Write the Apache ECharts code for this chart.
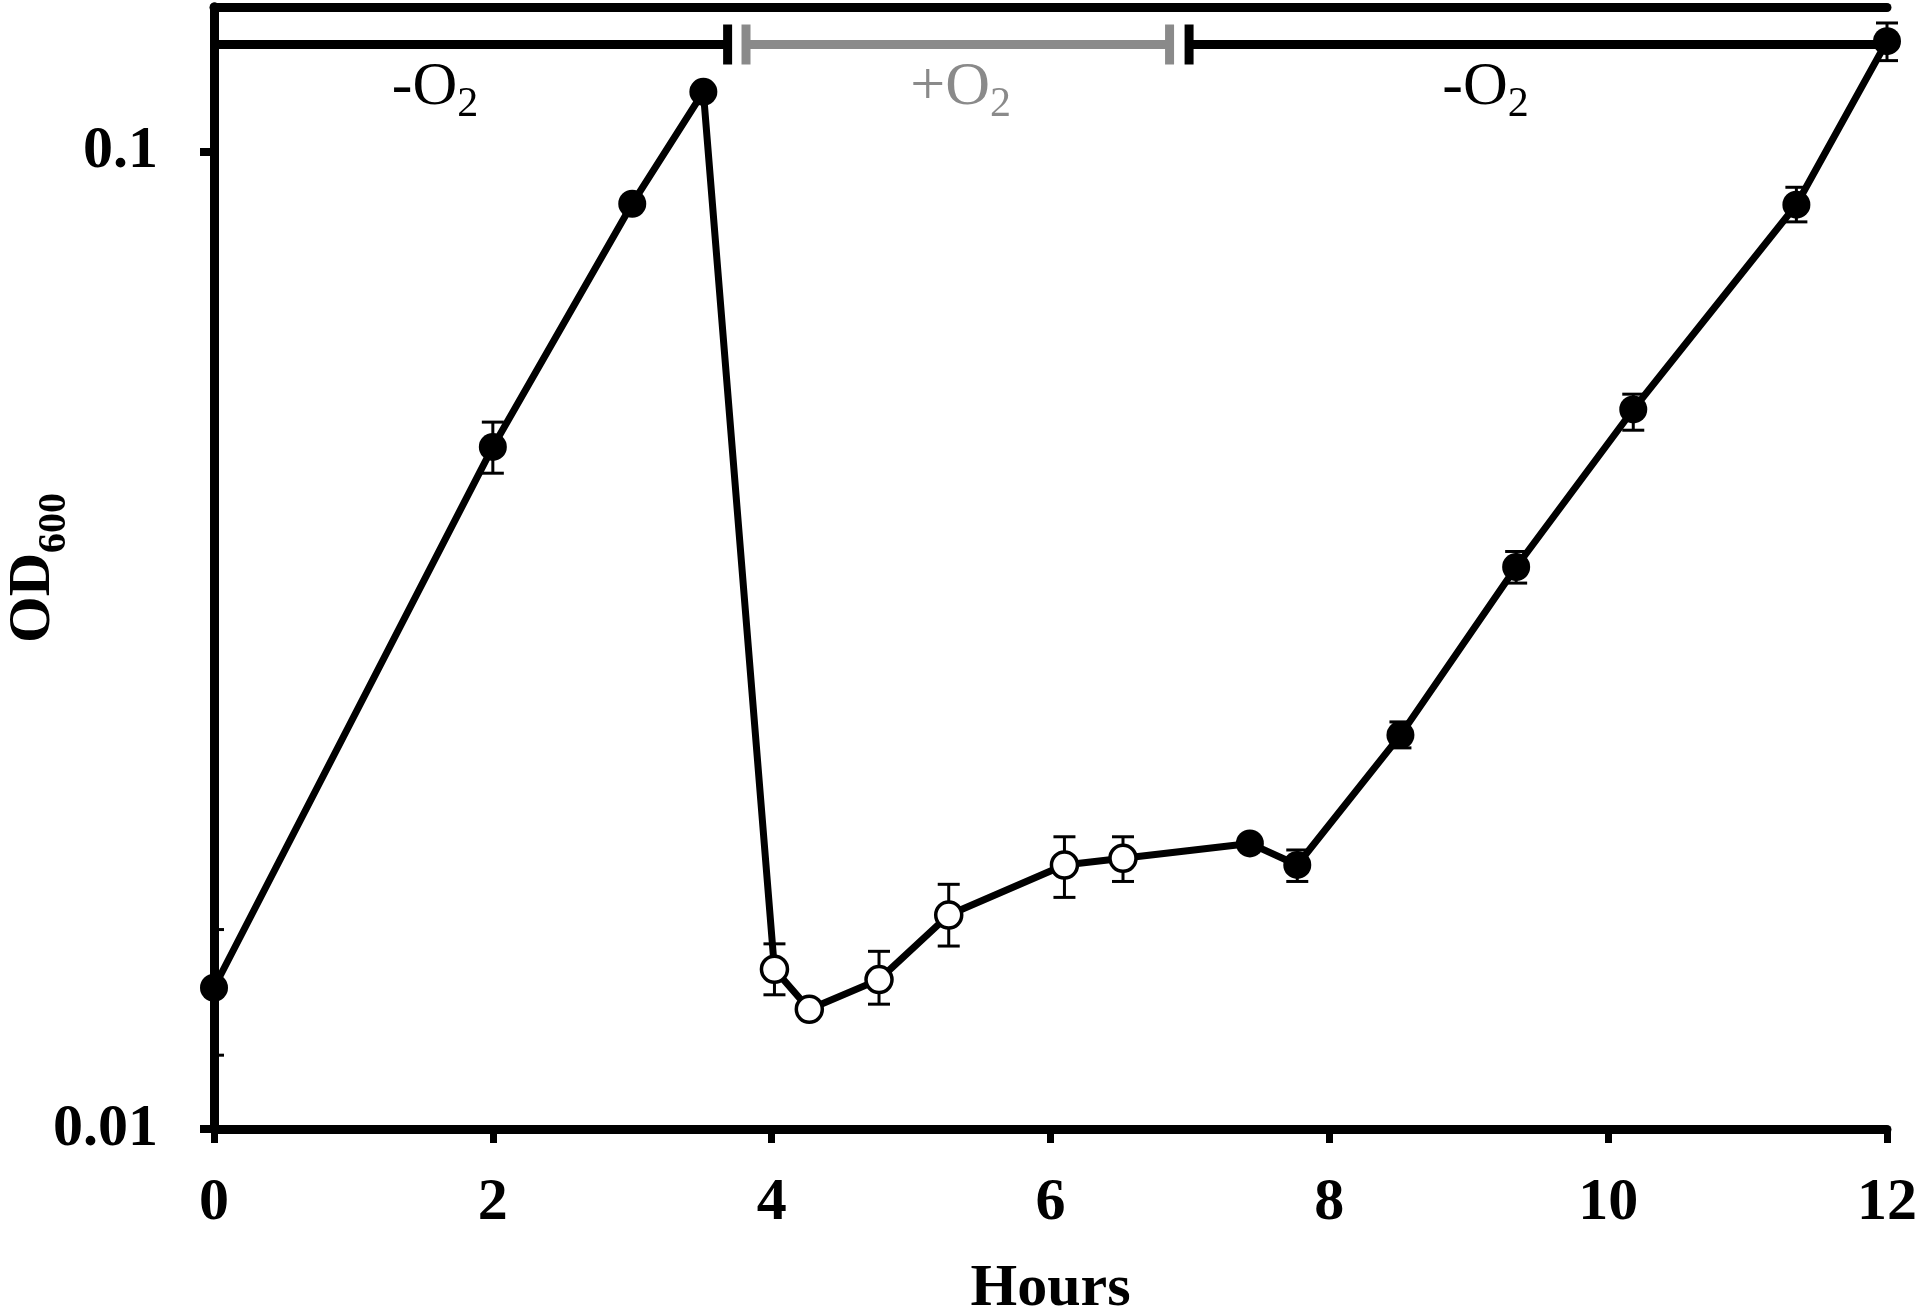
<!DOCTYPE html>
<html><head><meta charset="utf-8">
<script src="https://cdn.jsdelivr.net/npm/echarts@6/dist/echarts.min.js"></script>
<style>html,body{margin:0;padding:0;background:#fff}#c{width:1920px;height:1310px}</style>
</head><body><div id="c"></div>
<script>
// ---- data ----
const hours   = [0, 2.0, 3.0, 3.51, 4.02, 4.27, 4.77, 5.27, 6.10, 6.52, 7.43, 7.77, 8.51, 9.34, 10.18, 11.35, 12.0];
const od600   = [0.01395, 0.0499, 0.0885, 0.1152, 0.01457, 0.01326, 0.01422, 0.01656, 0.01863, 0.01893, 0.0196, 0.01863, 0.0253, 0.0376, 0.0545, 0.0883, 0.1298];
const errLow  = [null, 0.0469, 0.0875, null, 0.01372, null, 0.01342, 0.01539, 0.01726, 0.01792, null, 0.01792, 0.02455, 0.0362, 0.0519, 0.0848, 0.124];
const errHigh = [null, 0.0529, 0.0895, null, 0.01547, null, 0.01520, 0.0178, 0.01991, 0.01991, null, 0.0193, 0.0261, 0.0390, 0.0565, 0.0920, 0.1355];
const oxygen  = ['-','-','-','-','+','+','+','+','+','+','-','-','-','-','-','-','-'];
const xTickValues = [0, 2, 4, 6, 8, 10, 12];
const yTickValues = [0.01, 0.1];
const yTickLabels = ['0.01', '0.1'];
const yMinorTicks = [0.0119, 0.016];
// oxygen phase annotation
const phaseNames    = ['-O', '+O', '-O'];
const phaseStart    = [0, 3.816, 6.994];
const phaseEnd      = [3.684, 6.854, 12];
const phaseLabelAt  = [1.585, 5.355, 9.12];
const phaseCapStart = [false, true, true];
const phaseCapEnd   = [true, true, false];
const phaseLevel    = 0.1288;
const phaseAerobic  = [false, true, false];

const FONT = '"Liberation Serif", serif';
const GRAY = '#8a8a8a';

const chart = echarts.init(document.getElementById('c'), null, {renderer: 'canvas'});

const lineData = hours.map((h, i) => [h, od600[i]]);
const filled = [], open = [];
hours.forEach((h, i) => (oxygen[i] === '+' ? open : filled).push([h, od600[i]]));
const errData = [];
hours.forEach((h, i) => { if (errLow[i] != null) errData.push([h, errLow[i], errHigh[i]]); });

const series = [];
// phase bars + caps + labels
phaseNames.forEach((nm, i) => {
  const col = phaseAerobic[i] ? GRAY : '#000';
  series.push({
    type: 'line', data: [[phaseStart[i], phaseLevel], [phaseEnd[i], phaseLevel]],
    symbol: 'none', lineStyle: {color: col, width: 9, opacity: 1}, z: 5, clip: false, silent: true
  });
  const caps = [];
  if (phaseCapStart[i]) caps.push([phaseStart[i], phaseLevel]);
  if (phaseCapEnd[i]) caps.push([phaseEnd[i], phaseLevel]);
  series.push({
    type: 'scatter', data: caps, symbol: 'rect', symbolSize: [9, 40],
    itemStyle: {color: col, opacity: 1}, z: 5, clip: false, silent: true
  });
  series.push({
    type: 'scatter', data: [[phaseLabelAt[i], phaseLevel]], symbolSize: 1,
    itemStyle: {color: 'rgba(0,0,0,0)', opacity: 1}, z: 5, clip: false, silent: true,
    label: {
      show: true, position: 'inside', offset: [0, 43], opacity: 1,
      fontFamily: FONT, fontSize: 62, color: col,
      formatter: '{a|' + nm + '}{b|2}',
      rich: {
        a: {fontFamily: FONT, fontWeight: 'normal', fontSize: 62, lineHeight: 62, color: col, opacity: 1},
        b: {fontFamily: FONT, fontWeight: 'normal', fontSize: 42, lineHeight: 42, color: col, opacity: 1, padding: [34, 0, 0, 0]}
      }
    }
  });
});
// connecting line
series.push({
  type: 'line', data: lineData, symbol: 'none', clip: false,
  lineStyle: {color: '#000', width: 7, opacity: 1}, z: 2
});
// error bars
series.push({
  type: 'custom', data: errData, z: 3, clip: false,
  encode: {x: 0, y: [1, 2]},
  renderItem: (params, api) => {
    const x = api.value(0), lo = api.value(1), hi = api.value(2);
    const pH = api.coord([x, hi]), pL = api.coord([x, lo]);
    const w = 11, st = {stroke: '#000', lineWidth: 3};
    return {type: 'group', children: [
      {type: 'line', shape: {x1: pH[0], y1: pH[1], x2: pL[0], y2: pL[1]}, style: st},
      {type: 'line', shape: {x1: pH[0] - w, y1: pH[1], x2: pH[0] + w, y2: pH[1]}, style: st},
      {type: 'line', shape: {x1: pL[0] - w, y1: pL[1], x2: pL[0] + w, y2: pL[1]}, style: st}
    ]};
  }
});
// minor y ticks (inside)
series.push({
  type: 'custom', data: yMinorTicks.map(v => [0, v]), z: 3, clip: false,
  renderItem: (params, api) => {
    const p = api.coord([api.value(0), api.value(1)]);
    return {type: 'line', shape: {x1: p[0], y1: p[1], x2: p[0] + 10, y2: p[1]}, style: {stroke: '#000', lineWidth: 3}};
  }
});
// markers
series.push({
  type: 'scatter', data: filled, symbol: 'circle', symbolSize: 28,
  itemStyle: {color: '#000', opacity: 1}, z: 6, clip: false
});
series.push({
  type: 'scatter', data: open, symbol: 'circle', symbolSize: 26,
  itemStyle: {color: '#fff', borderColor: '#000', borderWidth: 3.5, opacity: 1}, z: 6, clip: false
});

const axisFont = {fontFamily: FONT, fontWeight: 'bold', fontSize: 60, color: '#000'};

chart.setOption({
  animation: false,
  backgroundColor: '#fff',
  grid: {left: 214, right: 33, top: 7, bottom: 181, containLabel: false, outerBoundsMode: 'none'},
  xAxis: [{
    type: 'value', min: 0, max: 12, interval: 2,
    axisLine: {lineStyle: {color: '#000', width: 9}},
    axisTick: {length: 14, lineStyle: {color: '#000', width: 7}},
    axisLabel: Object.assign({margin: 44, customValues: xTickValues}, axisFont),
    splitLine: {show: false},
    name: 'Hours', nameLocation: 'middle', nameGap: 130, nameMoveOverlap: false,
    nameTextStyle: axisFont
  }, {
    type: 'value', position: 'top', min: 0, max: 12,
    axisLine: {lineStyle: {color: '#000', width: 9}},
    axisTick: {show: false}, axisLabel: {show: false}, splitLine: {show: false}
  }],
  yAxis: [{
    type: 'log', logBase: 10, min: 0.01, max: 0.1407,
    axisLine: {lineStyle: {color: '#000', width: 9}},
    axisTick: {length: 14, customValues: yTickValues, lineStyle: {color: '#000', width: 8}},
    axisLabel: Object.assign({
      margin: 56, customValues: yTickValues,
      formatter: v => {
        let best = 0;
        yTickValues.forEach((t, k) => { if (Math.abs(Math.log(v / t)) < Math.abs(Math.log(v / yTickValues[best]))) best = k; });
        return yTickLabels[best];
      }
    }, axisFont),
    splitLine: {show: false}, minorTick: {show: false},
    name: '{a|OD}{b|600}', nameLocation: 'middle', nameRotate: 90, nameGap: 151, nameMoveOverlap: false,
    nameTextStyle: {
      rich: {
        a: {fontFamily: FONT, fontWeight: 'bold', fontSize: 60, lineHeight: 60, color: '#000'},
        b: {fontFamily: FONT, fontWeight: 'bold', fontSize: 40, lineHeight: 40, color: '#000', padding: [44, 0, 0, 0]}
      }
    }
  }, {
    type: 'value', position: 'right', min: 0, max: 1,
    axisLine: {lineStyle: {color: '#000', width: 9}},
    axisTick: {show: false}, axisLabel: {show: false}, splitLine: {show: false}
  }],
  series: series
});
</script>
</body></html>
